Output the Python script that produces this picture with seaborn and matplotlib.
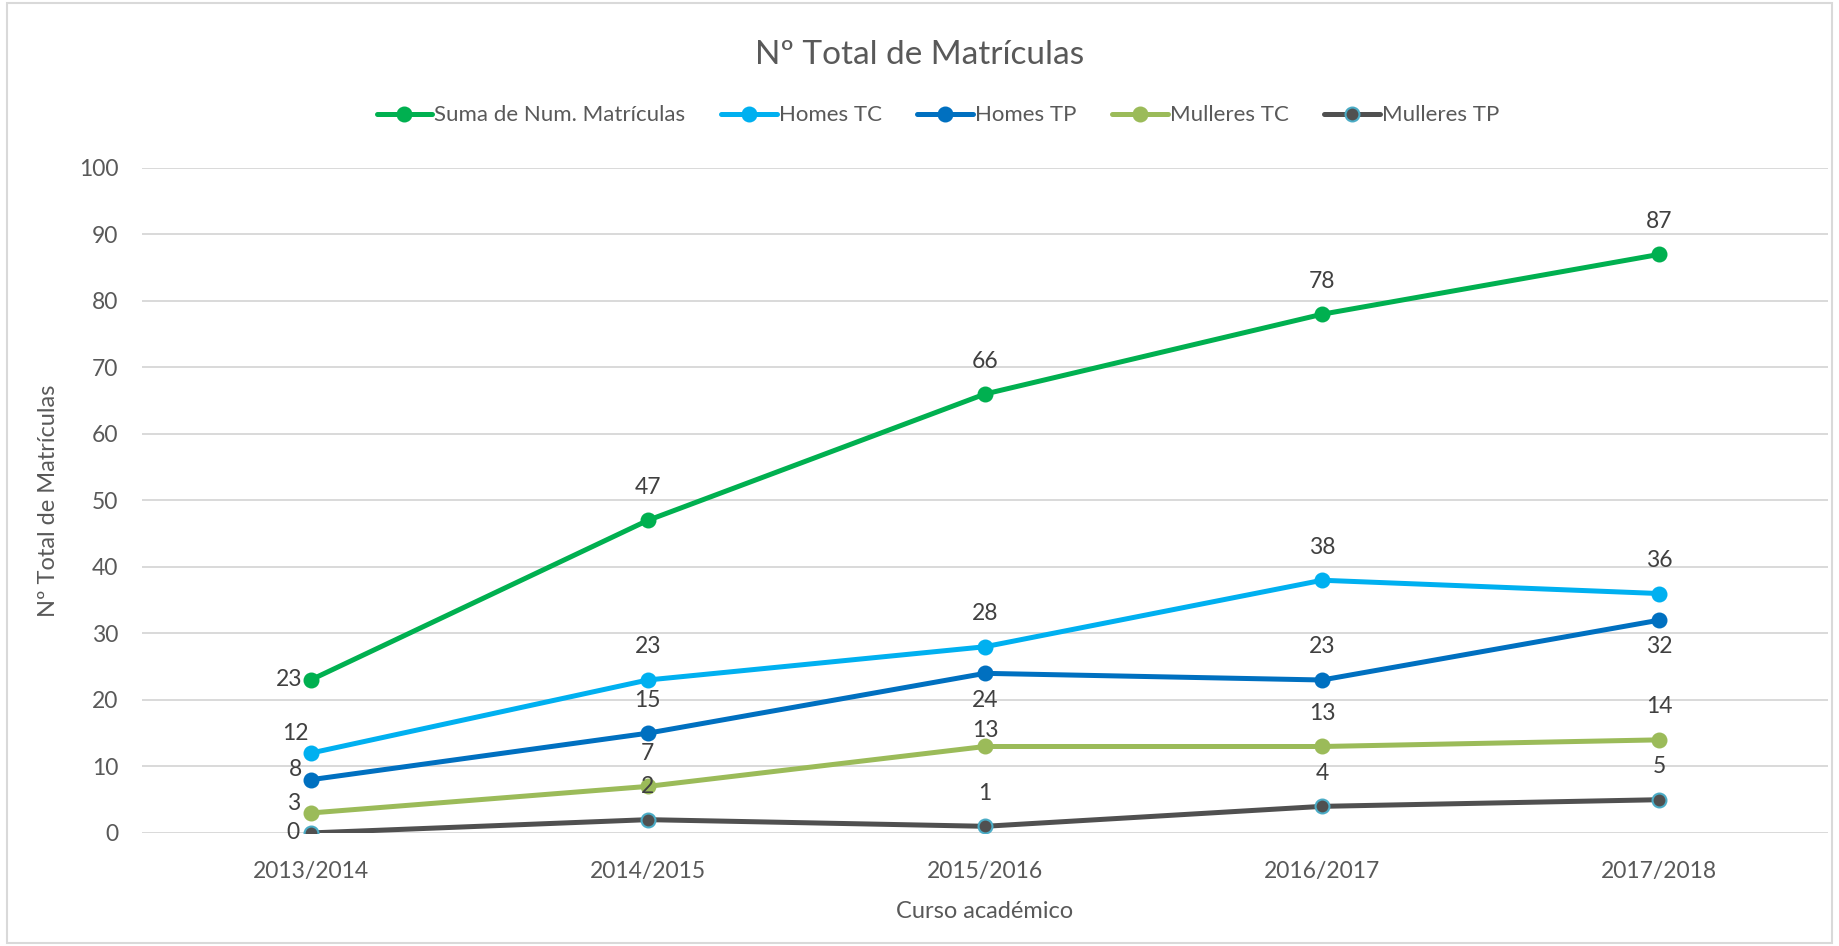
import matplotlib
import matplotlib.pyplot as plt
import seaborn as sns
import pandas as pd
from matplotlib.patches import Rectangle

matplotlib.use("Agg")

# --- data ---
cursos = ["2013/2014", "2014/2015", "2015/2016", "2016/2017", "2017/2018"]
suma = [23, 47, 66, 78, 87]
homes_tc = [12, 23, 28, 38, 36]
homes_tp = [8, 15, 24, 23, 32]
mulleres_tc = [3, 7, 13, 13, 14]
mulleres_tp = [0, 2, 1, 4, 5]

series = {
    "Suma de Num. Matrículas": suma,
    "Homes TC": homes_tc,
    "Homes TP": homes_tp,
    "Mulleres TC": mulleres_tc,
    "Mulleres TP": mulleres_tp,
}

colors = {
    "Suma de Num. Matrículas": "#00B050",
    "Homes TC": "#00B0F0",
    "Homes TP": "#0070C0",
    "Mulleres TC": "#9BBB59",
    "Mulleres TP": "#505050",
}
edge = {"Mulleres TP": "#4BACC6"}

# label offsets in pixels (dx, dy, ha) per point
UP = (0, 33, "center")
labpos = {
    "Suma de Num. Matrículas": [(-8, 0, "right"), UP, UP, UP, UP],
    "Homes TC": [(-2, 20, "right"), UP, UP, UP, UP],
    "Homes TP": [(-8, 10, "right"), UP, (0, -27, "center"), UP, (0, -26, "center")],
    "Mulleres TC": [(-10, 10, "right"), UP, (0, 16, "center"), UP, UP],
    "Mulleres TP": [(-11, 0, "right"), UP, UP, UP, UP],
}

sns.set_theme(style="white")
plt.rcParams["font.family"] = ["Lato", "DejaVu Sans"]
txt = "#595959"

fig = plt.figure(figsize=(18.39, 9.46), dpi=100)
ax = fig.add_axes([0.0772, 0.1195, 0.9168, 0.703])

for name, vals in series.items():
    df = pd.DataFrame({"Curso": cursos, "N": vals})
    c = colors[name]
    sns.lineplot(data=df, x="Curso", y="N", ax=ax, color=c, lw=3.6, marker="o",
                 markersize=10, markeredgecolor=edge.get(name, c),
                 markeredgewidth=1.5, label=name, sort=False)
    for i, v in enumerate(vals):
        dx, dy, ha = labpos[name][i]
        ax.annotate(str(v), (i, v), xytext=(dx, dy), textcoords="offset pixels",
                    ha=ha, va="center", fontsize=16.5, color="#404040")

ax.set_xlim(-0.5, 4.5)
ax.set_ylim(0, 100)
ax.set_yticks(range(0, 101, 10))
ax.grid(axis="y", color="#D9D9D9", lw=1.4)
ax.grid(axis="x", visible=False)
for s in ax.spines.values():
    s.set_visible(False)
ax.tick_params(axis="both", length=0, labelsize=16.5, labelcolor=txt)
ax.tick_params(axis="y", pad=17)
ax.tick_params(axis="x", pad=20)
ax.set_xlabel("Curso académico", fontsize=17, color=txt, labelpad=14)
ax.set_ylabel("Nº Total de Matrículas", fontsize=17, color=txt, labelpad=14)

h, l = ax.get_legend_handles_labels()
ax.get_legend().remove()
fig.legend(h, l, loc="center", bbox_to_anchor=(0.51, 0.878), ncol=5, frameon=False,
           fontsize=16, labelcolor=txt, handlelength=2.5, handletextpad=0.1,
           columnspacing=1.6)

fig.suptitle("Nº Total de Matrículas", y=0.958, fontsize=24, color=txt)

fig.patches.append(Rectangle((0.004, 0.003), 0.992, 0.994, transform=fig.transFigure,
                             fill=False, edgecolor="#D9D9D9", lw=1.5))

fig.savefig("out.png", dpi=100)
